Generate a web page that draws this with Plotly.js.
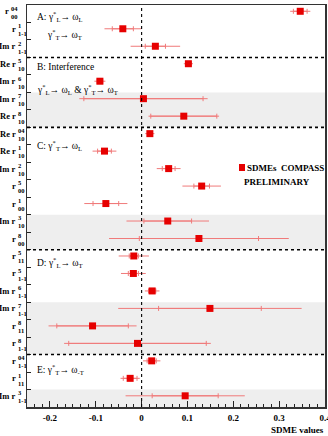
<!DOCTYPE html>
<html>
<head>
<meta charset="utf-8">
<script src="https://cdn.plot.ly/plotly-3.0.1.min.js"></script>
<style>
  html, body { margin: 0; padding: 0; background: #fff; }
  #chart { width: 328px; height: 436px; }
</style>
</head>
<body>
<div id="chart"></div>
<script>
// Spin-density matrix elements, one row per element (top to bottom)
const labelBase = ["r", "r", "Im r", "Re r", "Im r", "Im r", "Re r", "Re r", "Re r", "Im r", "r", "r",
                   "Im r", "r", "r", "r", "Im r", "Im r", "r", "r", "r", "r", "Im r"];
const labelSup  = ["04", "1", "2", "5", "6", "7", "8", "04", "1", "2", "5", "1",
                   "3", "8", "5", "5", "6", "7", "8", "8", "04", "1", "3"];
const labelSub  = ["00", "1-1", "1-1", "10", "10", "10", "10", "10", "10", "10", "00", "00",
                   "10", "00", "11", "1-1", "1-1", "1-1", "11", "1-1", "1-1", "11", "1-1"];

const sdmeValues  = [0.346, -0.041, 0.030, 0.102, -0.091, 0.004, 0.092, 0.018, -0.081, 0.059, 0.131, -0.078,
                     0.057, 0.125, -0.017, -0.018, 0.023, 0.149, -0.107, -0.009, 0.022, -0.025, 0.095];
const statErrors  = [0.015, 0.023, 0.022, 0.006, 0.006, 0.130, 0.072, 0.005, 0.015, 0.014, 0.017, 0.028,
                     0.052, 0.130, 0.010, 0.011, 0.008, 0.112, 0.078, 0.150, 0.010, 0.015, 0.072];
const totalErrors = [0.022, 0.040, 0.054, 0.010, 0.012, 0.140, 0.077, 0.010, 0.026, 0.026, 0.042, 0.047,
                     0.090, 0.196, 0.033, 0.027, 0.016, 0.200, 0.096, 0.160, 0.019, 0.021, 0.130];

const xTickVals = [-0.2, -0.1, 0, 0.1, 0.2, 0.3, 0.4];
const xTickText = ["-0.2", "-0.1", "0", "0.1", "0.2", "0.3", "0.4"];

// last row of each section (A..D) and shaded row spans
const sectionEnds = [2, 6, 13, 19];
const shadedRows = [[5, 6], [12, 13], [17, 19], [22, 22]];

const SERIF = "Liberation Serif, Times New Roman, serif";
const nRows = sdmeValues.length;
const rowIdx = sdmeValues.map((_, i) => i);
const edge = 0.64;              // row boundary offset below each row centre
const W = 328, H = 436, ML = 27, MR = 3, MT = 5, MB = 29;
const plotW = W - ML - MR, plotH = H - MT - MB;
const px = x => (x - ML) / plotW;          // pixel x -> paper x
const py = y => (H - MB - y) / plotH;      // pixel y -> paper y

const errColor = "#f07a7a";

const traces = [
  {
    type: "scatter", mode: "markers",
    x: sdmeValues, y: rowIdx,
    marker: { size: 1, color: "rgba(0,0,0,0)" },
    error_x: { type: "data", array: totalErrors, color: errColor, thickness: 1, width: 0 },
    hoverinfo: "skip", showlegend: false
  },
  {
    type: "scatter", mode: "markers",
    x: sdmeValues, y: rowIdx,
    marker: { symbol: "square", size: 7, color: "#e60000" },
    error_x: { type: "data", array: statErrors, color: errColor, thickness: 1, width: 2.5 },
    name: "SDMEs COMPASS", showlegend: false
  }
];

const shapes = [];
shadedRows.forEach(([a, b]) => {
  shapes.push({ type: "rect", layer: "below", xref: "paper", x0: 0, x1: 1,
                yref: "y", y0: a - 1 + edge, y1: Math.min(b + edge, nRows - 1 + edge),
                fillcolor: "#eeeeee", line: { width: 0 } });
});
sectionEnds.forEach(r => {
  shapes.push({ type: "line", xref: "paper", x0: 0, x1: 1, yref: "y", y0: r + edge, y1: r + edge,
                line: { color: "#000", width: 1.6, dash: "dot" } });
});
shapes.push({ type: "line", xref: "x", x0: 0, x1: 0, yref: "paper", y0: 0, y1: 1,
              line: { color: "#000", width: 1.1, dash: "dot" } });
// legend key
shapes.push({ type: "rect", xref: "paper", yref: "paper",
              x0: px(239), x1: px(245), y0: py(171), y1: py(164),
              fillcolor: "#e60000", line: { width: 0 } });

const annotations = [];
// row labels: base symbol plus stacked superscript / subscript
rowIdx.forEach(i => {
  const xs = i === 0 ? 10 : 16.5;
  annotations.push({ xref: "paper", x: px(xs), xanchor: "right", yref: "y", y: i, yanchor: "middle",
                     text: labelBase[i], showarrow: false, borderpad: 0,
                     font: { family: SERIF, size: 8.5, color: "#000", weight: "bold" } });
  annotations.push({ xref: "paper", x: px(xs), xanchor: "left", yref: "y", y: i + 0.05, yanchor: "middle",
                     text: labelSup[i] + "<br>" + labelSub[i], align: "left", showarrow: false, borderpad: 0,
                     font: { family: SERIF, size: 6.5, color: "#000", weight: "bold" } });
});

// section titles
const secFont = { family: SERIF, size: 9.5, color: "#000" };
[
  ["A: γ<sup>*</sup><sub>L</sub>→ ω<sub>L</sub>", 36, 0.29],
  ["γ<sup>*</sup><sub>T</sub>→ ω<sub>T</sub>", 46, 1.32],
  ["B: Interference", 36, 3.19],
  ["γ<sup>*</sup><sub>L</sub>→ ω<sub>L</sub> & γ<sup>*</sup><sub>T</sub>→ ω<sub>T</sub>", 36, 4.46],
  ["C: γ<sup>*</sup><sub>T</sub>→ ω<sub>L</sub>", 36, 7.7],
  ["D: γ<sup>*</sup><sub>L</sub>→ ω<sub>T</sub>", 36, 14.4],
  ["E: γ<sup>*</sup><sub>T</sub>→ ω<sub>-T</sub>", 36, 20.5]
].forEach(([t, x, y]) => {
  annotations.push({ xref: "paper", x: px(x), xanchor: "left", yref: "y", y: y, yanchor: "middle",
                     text: t, showarrow: false, borderpad: 0, font: secFont });
});

// legend text
const legFont = { family: SERIF, size: 9, color: "#000", weight: "bold" };
annotations.push({ xref: "paper", x: px(246), xanchor: "left", yref: "paper", y: py(168), yanchor: "middle",
                   text: "SDMEs  COMPASS", showarrow: false, borderpad: 0, font: legFont });
annotations.push({ xref: "paper", x: px(243), xanchor: "left", yref: "paper", y: py(182), yanchor: "middle",
                   text: "PRELIMINARY", showarrow: false, borderpad: 0, font: legFont });
// x axis title
annotations.push({ xref: "paper", x: 1, xanchor: "right", yref: "paper", y: py(429.5), yanchor: "middle",
                   text: "SDME values", showarrow: false, borderpad: 0,
                   font: { family: SERIF, size: 9, color: "#000", weight: "bold" } });

const boundaries = [];
for (let i = 0; i < nRows - 1; i++) boundaries.push(i + edge);

const layout = {
  width: W, height: H,
  margin: { l: ML, r: MR, t: MT, b: MB, pad: 0 },
  paper_bgcolor: "#fff", plot_bgcolor: "#fff",
  showlegend: false,
  xaxis: {
    range: [-0.25, 0.4], tickmode: "array", tickvals: xTickVals, ticktext: xTickText,
    ticks: "inside", ticklen: 6, tickwidth: 1, tickcolor: "#222",
    minor: { dtick: 0.1 / 6, tick0: 0, ticks: "inside", ticklen: 3, tickcolor: "#222", showgrid: false },
    showline: true, mirror: true, linecolor: "#333", linewidth: 1.5,
    showgrid: false, zeroline: false, ticklabelstandoff: 2, ticklabeloverflow: "allow",
    tickfont: { family: SERIF, size: 9, color: "#000", weight: "bold" }
  },
  yaxis: {
    range: [nRows - 1 + edge, -1 + edge], tickmode: "array", tickvals: boundaries,
    ticks: "inside", ticklen: 4, tickcolor: "#222", showticklabels: false,
    showline: true, mirror: true, linecolor: "#333", linewidth: 1.5,
    showgrid: false, zeroline: false
  },
  shapes: shapes,
  annotations: annotations
};

Plotly.newPlot("chart", traces, layout, { displayModeBar: false, staticPlot: true });
</script>
</body>
</html>
